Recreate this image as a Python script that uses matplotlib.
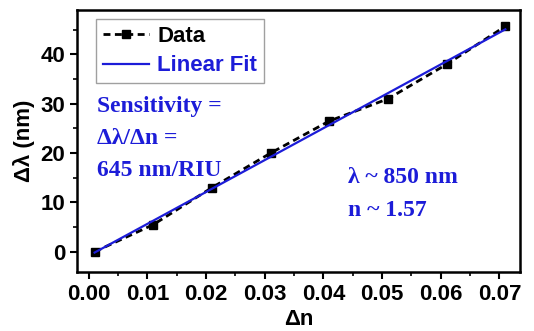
import numpy as np
import matplotlib
matplotlib.use("Agg")
import matplotlib.pyplot as plt
from matplotlib.ticker import MultipleLocator, FormatStrFormatter

# ---- data ----
dn = [0.001, 0.011, 0.021, 0.031, 0.041, 0.051, 0.061, 0.071]
dlam = [0.0, 5.5, 13.0, 20.0, 26.5, 31.0, 38.0, 45.7]

BLUE = "#1c1cd8"
plt.rcParams["font.family"] = ["Liberation Sans", "DejaVu Sans"]
plt.rcParams["font.weight"] = "bold"

fig = plt.figure(figsize=(5.34, 3.31), dpi=100)
ax = fig.add_axes([77/534, 1 - 272/331, 443/534, 262/331])

# linear fit
k, b = np.polyfit(dn, dlam, 1)
xf = np.array([dn[0], dn[-1]])

ax.plot(dn, dlam, ls=(0, (2.5, 1.6)), color="black", lw=2, marker="s",
        ms=6, label="Data")
ax.plot(xf, k * xf + b, color=BLUE, lw=1.6, label="Linear Fit")

ax.set_xlim(-0.002, 0.0735)
ax.set_ylim(-4.1, 49)
ax.xaxis.set_major_locator(MultipleLocator(0.01))
ax.xaxis.set_minor_locator(MultipleLocator(0.005))
ax.yaxis.set_major_locator(MultipleLocator(10))
ax.yaxis.set_minor_locator(MultipleLocator(5))
ax.xaxis.set_major_formatter(FormatStrFormatter("%.2f"))
ax.tick_params(which="major", length=5, width=1.5, labelsize=16, direction="out")
ax.tick_params(which="minor", length=3, width=1.2, direction="out")
for s in ax.spines.values():
    s.set_linewidth(1.8)

ax.set_xlabel("Δn", fontsize=16, fontweight="bold", labelpad=3)
ax.set_ylabel("Δλ (nm)", fontsize=16, fontweight="bold", labelpad=4)

leg = ax.legend(loc="upper left", bbox_to_anchor=(0.043, 0.966), fontsize=16,
                frameon=True, fancybox=False, edgecolor="#888888",
                handlelength=2.1, handletextpad=0.35, borderpad=0.3,
                labelspacing=0.4, borderaxespad=0)
leg.get_frame().set_linewidth(1.0)
leg.get_texts()[1].set_color(BLUE)

serif = ["Liberation Serif", "DejaVu Serif"]
notes = [("Sensitivity =", 0.045, 0.630), ("Δλ/Δn =", 0.045, 0.508),
         ("645 nm/RIU", 0.045, 0.389), ("λ ~ 850 nm", 0.612, 0.359),
         ("n ~ 1.57", 0.612, 0.233)]
for txt, x, y in notes:
    ax.text(x, y, txt, transform=ax.transAxes, ha="left", va="center",
            fontsize=17, fontweight="bold", family=serif, color=BLUE)

fig.savefig("out.png", dpi=100)
